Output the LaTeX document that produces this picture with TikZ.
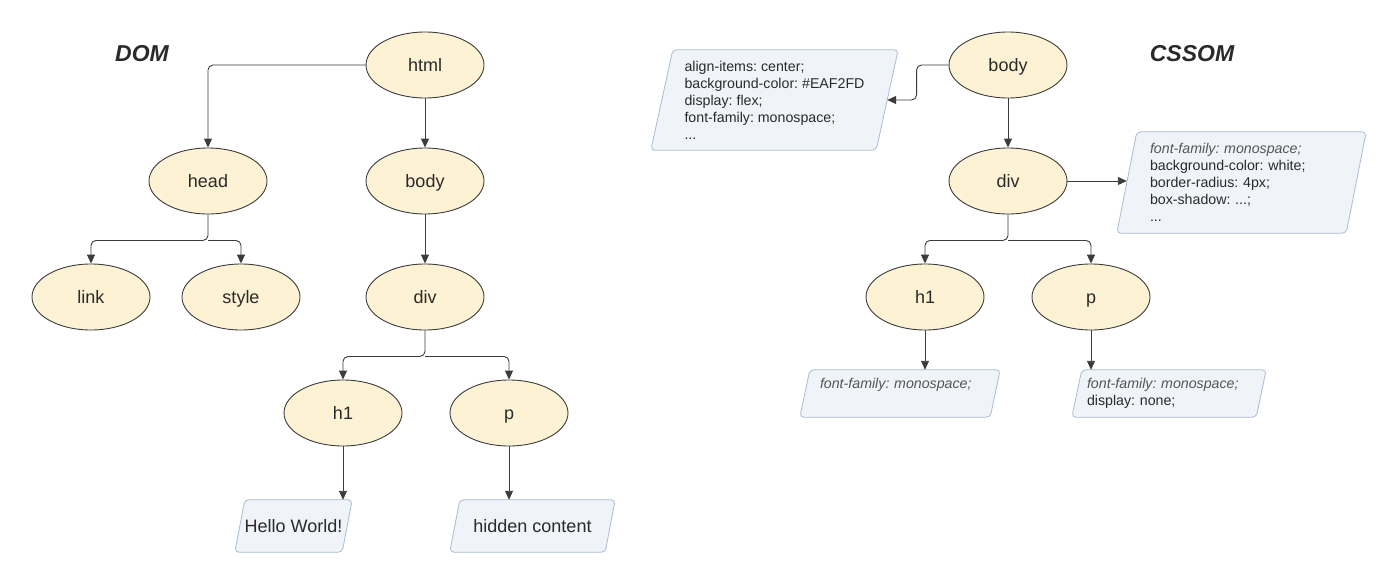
\documentclass[tikz,border=0pt]{standalone}
\usepackage{fontspec}
\setmainfont{Liberation Sans}
\frenchspacing
\usetikzlibrary{shapes.geometric,arrows.meta}
\pgfdeclarelayer{bottom}
\pgfdeclarelayer{background}
\pgfsetlayers{bottom,background,main}
\definecolor{elfill}{HTML}{FDF2D4}
\definecolor{eldraw}{HTML}{3C3C3C}
\definecolor{bxfill}{HTML}{F0F3F7}
\definecolor{bxdraw}{HTML}{A8BCD6}
\definecolor{txt}{HTML}{2A2A2A}
\definecolor{gtxt}{HTML}{555555}
\tikzset{
  elnode/.style={ellipse,draw=eldraw,fill=elfill,line width=0.9pt,minimum width=118pt,minimum height=66pt,inner sep=0pt,font=\fontsize{18}{20}\selectfont,text=txt,text height=13pt,text depth=1pt},
  bxnode/.style={rectangle,inner ysep=0pt,text=txt,align=left},
  bxshape/.style={draw=bxdraw,fill=bxfill,line width=0.8pt,rounded corners=4pt},
  bigtxt/.style={font=\fontsize{18}{20}\selectfont,text height=13pt,text depth=1pt},
  smalltxt/.style={font=\fontsize{14.2}{17}\selectfont\frenchspacing},
  conn/.style={draw=eldraw,line width=0.9pt,rounded corners=5pt,-{Triangle[length=9pt,width=8pt]}},
  title/.style={font=\fontsize{23}{26}\selectfont\bfseries\itshape,text=txt},
}
\newcommand{\paral}[2]{%
  \begin{pgfonlayer}{background}
  \path[bxshape] (#1.south west) -- ([xshift=#2pt]#1.north west) -- (#1.north east) -- ([xshift=-#2pt]#1.south east) -- cycle;
  \end{pgfonlayer}}
\begin{document}
\begin{tikzpicture}[x=1pt,y=-1pt]
\begin{pgfonlayer}{bottom}
\fill[white] (0,0) rectangle (1400,586);
\end{pgfonlayer}
\useasboundingbox (0,0) rectangle (1400,586);
% titles
\node[title] (domt) at (142,54) {DOM};
\node[title] (cssomt) at (1192,54) {CSSOM};
% DOM tree
\node[elnode] (html) at (425,65) {html};
\node[elnode] (head) at (208,181) {head};
\node[elnode] (body) at (425,181) {body};
\node[elnode] (link) at (91,297) {link};
\node[elnode] (style) at (241,297) {style};
\node[elnode] (div) at (425,297) {div};
\node[elnode] (h1) at (343,413) {h1};
\node[elnode] (p) at (509,413) {p};
\node[bxnode,bigtxt,minimum width=117pt,minimum height=52pt,align=center] (hw) at (293.5,526) {Hello World!};
\node[bxnode,bigtxt,minimum width=165pt,minimum height=52pt,align=center] (hc) at (532.5,526) {hidden content};
\paral{hw}{10}
\paral{hc}{10}
\draw[conn] (html.west) -| (head.north);
\draw[conn,rounded corners=0pt] (html.south) -- (body.north);
\draw[conn] (head.south) -- ++(0,26) coordinate (hj) -| (link.north);
\draw[conn] (hj) -| (style.north);
\draw[conn,rounded corners=0pt] (body.south) -- (div.north);
\draw[conn] (div.south) -- ++(0,26) coordinate (dj) -| (h1.north);
\draw[conn] (dj) -| (p.north);
\draw[conn,rounded corners=0pt] (h1.south) -- (h1.south |- hw.north);
\draw[conn,rounded corners=0pt] (p.south) -- (p.south |- hc.north);
% CSSOM tree
\node[elnode] (cbody) at (1008,65) {body};
\node[elnode] (cdiv) at (1008,181) {div};
\node[elnode] (ch1) at (925,297) {h1};
\node[elnode] (cp) at (1091,297) {p};
\node[bxnode,smalltxt,minimum width=247pt,minimum height=100pt] (sbody) at (774.5,100)
  {align-items: center;\\ background-color: \#EAF2FD\\ display: flex;\\ font-family: monospace;\\ ...};
\node[bxnode,smalltxt,minimum width=249pt,minimum height=101pt,text width=183pt,inner xsep=33pt] (sdiv) at (1241.5,182.5)
  {\textcolor{gtxt}{\itshape font-family: monospace;}\\ background-color: white;\\ border-radius: 4px;\\ box-shadow: ...;\\ ...};
\node[bxnode,smalltxt,minimum width=200pt,minimum height=47pt,text width=160pt,inner xsep=20pt] (sh1) at (900,393.5)
  {\textcolor{gtxt}{\itshape font-family: monospace;}\\ \phantom{display: none;}};
\node[bxnode,smalltxt,minimum width=194pt,minimum height=47pt,text width=164pt,inner xsep=15pt] (sp) at (1169,393.5)
  {\textcolor{gtxt}{\itshape font-family: monospace;}\\ display: none;};
\paral{sbody}{22}
\paral{sdiv}{20}
\paral{sh1}{10}
\paral{sp}{10}
\draw[conn] (cbody.west) -- ++(-32,0) |- ([xshift=-11pt]sbody.east);
\draw[conn,rounded corners=0pt] (cbody.south) -- (cdiv.north);
\draw[conn,rounded corners=0pt] (cdiv.east) -- ([xshift=10pt]cdiv.east -| sdiv.west);
\draw[conn] (cdiv.south) -- ++(0,26) coordinate (cj) -| (ch1.north);
\draw[conn] (cj) -| (cp.north);
\draw[conn,rounded corners=0pt] (ch1.south) -- (ch1.south |- sh1.north);
\draw[conn,rounded corners=0pt] (cp.south) -- (cp.south |- sp.north);
\end{tikzpicture}
\end{document}
